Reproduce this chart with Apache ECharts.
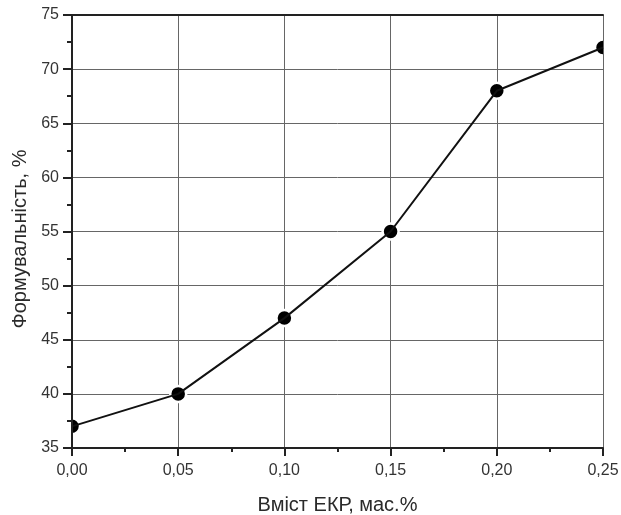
<!DOCTYPE html>
<html><head><meta charset="utf-8">
<script src="https://cdn.jsdelivr.net/npm/echarts@6/dist/echarts.min.js"></script>
<style>html,body{margin:0;padding:0;background:#fff}#c{width:621px;height:515px}</style>
</head><body><div id="c"></div>
<script>
const xValues = [0.00, 0.05, 0.10, 0.15, 0.20, 0.25];
const yValues = [37, 40, 47, 55, 68, 72];
const xTitle = 'Вміст ЕКР, мас.%';
const yTitle = 'Формувальність, %';

const chart = echarts.init(document.getElementById('c'));
const font = 'Liberation Sans, Arial, sans-serif';
const points = xValues.map((x, i) => [x, yValues[i]]);
const frameAxis = {
  axisLine: {show: true, lineStyle: {color: '#222', width: 2}},
  axisTick: {show: false}, axisLabel: {show: false}, splitLine: {show: false}, z: 5
};
chart.setOption({
  animation: false,
  backgroundColor: '#fff',
  grid: {left: 72, right: 18, top: 15, bottom: 67, outerBoundsMode: 'none', containLabel: false},
  xAxis: [{
    type: 'value', min: 0, max: 0.25, interval: 0.05,
    name: xTitle, nameLocation: 'middle', nameGap: 47,
    nameTextStyle: {fontFamily: font, fontSize: 20, color: '#2a2a2a'},
    axisLine: {show: true, lineStyle: {color: '#222', width: 2}},
    axisTick: {show: true, length: 8, lineStyle: {color: '#222', width: 2}},
    minorTick: {show: true, splitNumber: 2, length: 4, lineStyle: {color: '#222', width: 2}},
    axisLabel: {fontFamily: font, fontSize: 16, color: '#333', margin: 15,
      formatter: v => v.toFixed(2).replace('.', ',')},
    splitLine: {show: true, lineStyle: {color: '#666', width: 1}}
  }, Object.assign({type: 'value', position: 'top', min: 0, max: 0.25}, frameAxis)],
  yAxis: [{
    type: 'value', min: 35, max: 75, interval: 5,
    name: yTitle, nameLocation: 'middle', nameGap: 32,
    nameTextStyle: {fontFamily: font, fontSize: 20, color: '#2a2a2a', padding: [0, 15, 0, 0]},
    axisLine: {show: true, lineStyle: {color: '#222', width: 2}},
    axisTick: {show: true, length: 9, lineStyle: {color: '#222', width: 2}},
    minorTick: {show: true, splitNumber: 2, length: 5, lineStyle: {color: '#222', width: 2}},
    axisLabel: {fontFamily: font, fontSize: 16, color: '#333', margin: 13},
    splitLine: {show: true, lineStyle: {color: '#666', width: 1}}
  }, Object.assign({type: 'value', position: 'right', min: 35, max: 75}, frameAxis)],
  series: [{
    type: 'line',
    data: points,
    clip: true,
    showSymbol: false,
    lineStyle: {color: '#111', width: 2}
  }, {
    type: 'custom',
    data: points,
    clip: true,
    encode: {x: 0, y: 1},
    renderItem: function (params, api) {
      const p = api.coord([api.value(0), api.value(1)]);
      return {
        type: 'circle',
        shape: {cx: p[0], cy: p[1], r: 8},
        style: {fill: '#000', stroke: '#fff', lineWidth: 2.5}
      };
    }
  }]
});
</script></body></html>
